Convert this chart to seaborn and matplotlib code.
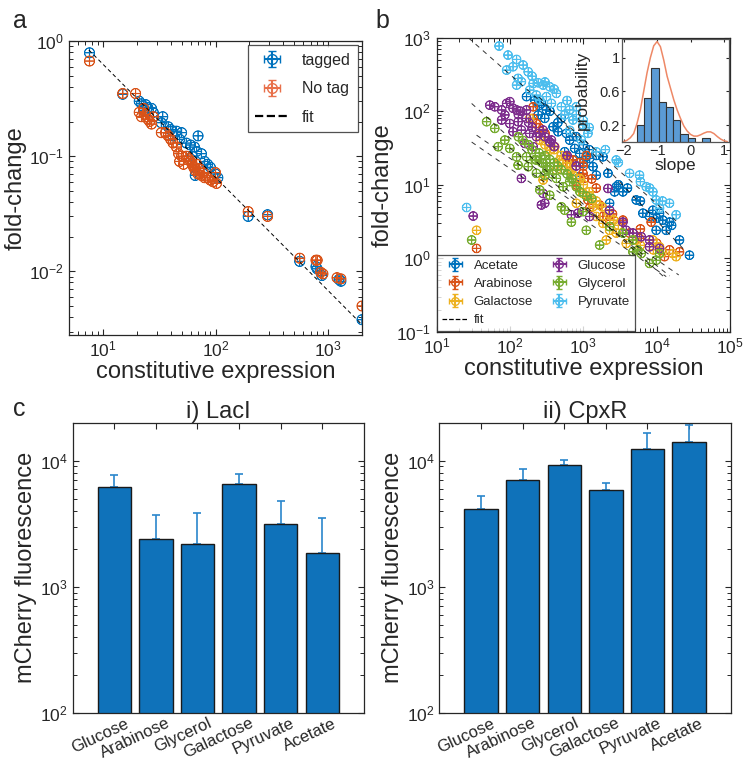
import numpy as np
import pandas as pd
import matplotlib
matplotlib.use("Agg")
import matplotlib.pyplot as plt
import matplotlib.transforms as mtrans
from matplotlib.ticker import NullLocator, LogLocator
import seaborn as sns
from matplotlib.lines import Line2D

# ---------------- data: panel a ----------------
tag_x = [7.6, 15, 21, 22, 24, 25, 27, 23, 28, 34, 33, 38, 40, 45, 50, 42, 48, 55, 60, 65, 70, 68, 75, 80,
         85, 62, 66, 90, 100, 105, 195, 290, 560, 780, 800, 880, 1250, 1300, 2000]
tag_y = [0.79, 0.345, 0.30, 0.285, 0.28, 0.265, 0.26, 0.25, 0.24, 0.22, 0.195, 0.18, 0.17, 0.165, 0.16,
         0.15, 0.14, 0.13, 0.125, 0.12, 0.15, 0.11, 0.105, 0.09, 0.085, 0.10, 0.068, 0.08, 0.07, 0.065,
         0.030, 0.031, 0.0122, 0.011, 0.0105, 0.0092, 0.0085, 0.0082, 0.0038]
notag_x = [7.6, 15, 19.5, 21, 22, 24, 23, 25, 26, 27, 28, 33, 36, 38, 40, 42, 45, 47, 50, 48, 52, 55, 58,
           60, 62, 64, 66, 68, 70, 72, 75, 78, 80, 85, 90, 95, 100, 102, 195, 290, 560, 780, 800, 860,
           900, 1200, 1300, 2000]
notag_y = [0.67, 0.35, 0.35, 0.24, 0.22, 0.23, 0.26, 0.21, 0.20, 0.19, 0.22, 0.16, 0.16, 0.15, 0.14, 0.13,
           0.12, 0.105, 0.10, 0.09, 0.085, 0.10, 0.095, 0.09, 0.085, 0.08, 0.075, 0.085, 0.07, 0.078,
           0.068, 0.072, 0.065, 0.065, 0.062, 0.060, 0.072, 0.058, 0.033, 0.030, 0.013, 0.0125, 0.0125,
           0.0098, 0.0095, 0.0088, 0.0086, 0.005]
fit_a_coef = 6.05
fit_a_slope = -0.983
fit_a_range = [7.5, 2000]

# ---------------- data: panel b ----------------
carbons = ["Acetate", "Arabinose", "Galactose", "Glucose", "Glycerol", "Pyruvate"]
acetate_x = [168, 218, 268, 314, 242, 298, 387, 452, 587, 652, 762, 891, 1098, 1219, 723, 989, 1354, 1853,
             2167, 2811, 3465, 5264, 6486, 7994, 9851, 12142, 13477, 14962, 20473, 28013, 8874, 10937,
             1503, 891, 557, 2283, 2668, 250, 350, 450, 500, 800, 1000, 1200, 1500, 3000, 4000, 6000,
             10000, 16000]
acetate_y = [158, 142, 128, 104, 89, 80, 61.5, 52.6, 49.9, 40.5, 31.2, 26.7, 24, 22.8, 21.7, 19.5, 17.6, 24,
             14.3, 9.4, 8.0, 6.2, 4.1, 3.7, 2.4, 3.3, 2.4, 3.1, 1.77, 1.10, 4.5, 4.1, 13.5, 12.9, 28.1,
             5.6, 8.0, 120, 100, 70, 80, 45, 35, 30, 25, 10, 9, 6, 3.5, 2.8]
arabinose_x = [207, 207, 229, 407, 587, 652, 723, 989, 1042, 803, 1157, 1219, 1669, 1853, 2283, 3465, 8422,
               20473, 12792, 4271, 5843, 35, 250, 300, 900, 1000, 1100, 1300, 1500, 2500, 6000, 10000,
               15000]
arabinose_y = [115, 80, 68, 32.9, 24, 19.5, 21.7, 14.3, 12.2, 9.9, 6.2, 4.8, 5.3, 3.7, 3.3, 3.3, 3.1, 1.22,
               1.05, 2.2, 1.86, 1.36, 60, 50, 20, 18, 25, 12, 9, 4, 2.5, 1.6, 1.3]
galactose_x = [186, 255, 348, 476, 587, 429, 283, 723, 803, 989, 1219, 803, 1354, 1503, 1853, 2283, 2811,
               2057, 3847, 5264, 8874, 10937, 16611, 18441, 35, 300, 400, 500, 600, 700, 900, 1000, 1200,
               1500, 1800, 2200, 2600, 3000, 6000, 9000, 12000]
galactose_y = [80, 40.5, 29.6, 21.7, 17.6, 15.8, 11.6, 13.5, 9.4, 7.6, 6.9, 5.6, 5.0, 3.7, 2.98, 2.4, 2.2,
               1.77, 1.59, 1.77, 1.77, 1.43, 1.16, 1.05, 2.4, 35, 30, 25, 20, 16, 12, 10, 8, 6, 5, 4, 3.3,
               2.8, 1.5, 1.3, 1.2]
glucose_x = [53, 62, 77, 90, 99.5, 85, 123, 77, 99.5, 129, 168, 110, 143, 186, 229, 283, 367, 159, 207, 143,
             283, 298, 268, 687, 846, 1219, 2167, 2283, 3465, 3847, 4742, 6156, 7994, 10937, 7994, 31.5,
             168, 200, 250, 300, 350, 400, 130, 110, 140, 180, 600, 800]
glucose_y = [121, 115, 104, 128, 135, 89, 104, 76, 68, 72, 80, 52.6, 55.4, 49.9, 45, 55.4, 40.5, 36.5, 32.9,
             12.2, 7.6, 5.6, 5.3, 3.9, 4.1, 3.7, 8.9, 4.5, 3.1, 2.4, 2.2, 1.96, 1.77, 1.36, 1.43, 3.75,
             104, 60, 50, 45, 38, 33, 90, 110, 100, 70, 25, 18]
glycerol_x = [48, 62, 69, 85, 99.5, 123, 168, 129, 177, 229, 283, 348, 229, 298, 429, 529, 652, 803, 255,
              348, 502, 557, 687, 989, 1098, 1669, 2283, 3465, 4742, 5546, 6156, 7994, 9851, 10937, 4742,
              30, 130, 150, 200, 250, 300, 350, 400, 450, 500, 600, 700, 180, 220, 270, 320, 380, 900,
              1100, 1300]
glycerol_y = [72, 58.4, 32.9, 40.5, 31.2, 24, 24, 18.5, 17.6, 21.7, 19.5, 17.6, 14.3, 13.5, 12.2, 9.4, 11.0,
              9.4, 8.5, 7.2, 5.0, 4.5, 3.1, 4.3, 2.4, 1.51, 2.69, 2.2, 1.77, 1.29, 1.16, 0.85, 0.94, 1.16,
              1.22, 1.77, 45, 40, 30, 27, 25, 22, 20, 18, 16, 14, 12, 35, 22, 20, 16, 14, 8, 7, 6.5]
pyruvate_x = [71, 94, 123, 110, 151, 90, 177, 129, 143, 207, 242, 283, 348, 186, 229, 314, 429, 255, 367,
              502, 652, 803, 557, 723, 989, 652, 1157, 939, 1503, 2811, 4271, 5843, 7200, 8874, 9851,
              14962, 10937, 18441, 25.6, 123, 200, 300, 400, 600, 800, 1000, 1200, 2000, 3000, 6000, 8000,
              12000]
pyruvate_y = [771, 581, 507, 403, 425, 363, 344, 280, 252, 239, 244, 227, 215, 194, 166, 158, 175, 142, 128,
              115, 104, 115, 89, 76, 65, 55, 50, 40.5, 28, 21.7, 14.3, 13.5, 9.4, 8.0, 6.2, 5.6, 4.8, 3.9,
              4.9, 227, 300, 250, 200, 140, 90, 75, 60, 30, 20, 11, 9, 6]
# fits: log10(y) = intercept + slope*log10(x)
fit_slope = [-1.05, -0.80, -0.69, -0.90, -0.69, -0.88]
fit_intercept = [4.71, 3.10, 2.74, 3.435, 2.60, 4.26]
fit_xmin = [250, 100, 35, 30, 30, 27]
fit_xmax = [23000, 15000, 20000, 13500, 13500, 20000]

# inset histogram of slopes
slope_edges = [-1.6, -1.38, -1.17, -0.95, -0.73, -0.52, -0.30, -0.08, 0.13, 0.35, 0.57]
slope_prob = [0.20, 0.52, 0.88, 0.47, 0.41, 0.255, 0.10, 0.05, 0.0, 0.05]
kde_x = [-2.0, -1.9, -1.8, -1.7, -1.6, -1.5, -1.4, -1.3, -1.2, -1.1, -1.0, -0.9, -0.8, -0.7, -0.6, -0.5,
         -0.4, -0.3, -0.2, -0.1, 0.0, 0.1, 0.2, 0.3, 0.4, 0.5, 0.6, 0.7, 0.8, 0.9, 1.0, 1.1]
kde_y = [0.005, 0.02, 0.05, 0.10, 0.22, 0.38, 0.60, 0.82, 1.00, 1.14, 1.19, 1.13, 0.97, 0.78, 0.64, 0.50,
         0.38, 0.28, 0.19, 0.13, 0.09, 0.07, 0.07, 0.085, 0.105, 0.12, 0.12, 0.10, 0.065, 0.035, 0.015,
         0.005]

# ---------------- data: panel c ----------------
bar_cats = ["Glucose", "Arabinose", "Glycerol", "Galactose", "Pyruvate", "Acetate"]
laci_vals = [6140, 2390, 2190, 6490, 3160, 1840]
laci_err = [1500, 1290, 1660, 1340, 1660, 1640]
cpxr_vals = [4140, 7030, 9240, 5850, 12390, 13970]
cpxr_err = [1070, 1560, 820, 830, 4280, 5080]

# ---------------- style ----------------
sns.set_style("ticks")
plt.rcParams["font.family"] = ["Liberation Sans", "DejaVu Sans"]
plt.rcParams["mathtext.fontset"] = "custom"
plt.rcParams["mathtext.rm"] = "Liberation Sans"
plt.rcParams["mathtext.it"] = "Liberation Sans:italic"
plt.rcParams["mathtext.bf"] = "Liberation Sans:bold"
DARK = "#262626"
plt.rcParams.update({
    "xtick.direction": "in", "ytick.direction": "in",
    "xtick.top": True, "ytick.right": True,
    "xtick.color": DARK, "ytick.color": DARK,
    "xtick.labelcolor": DARK, "ytick.labelcolor": DARK,
    "axes.edgecolor": DARK, "axes.linewidth": 0.9,
    "xtick.major.size": 4.5, "ytick.major.size": 4.5,
    "xtick.minor.size": 3, "ytick.minor.size": 3,
    "xtick.major.width": 0.8, "ytick.major.width": 0.8,
    "xtick.minor.width": 0.7, "ytick.minor.width": 0.7,
    "axes.labelcolor": DARK,
})

BLUE = "#0072BD"
ORANGE = "#D95319"
colors_b = {"Acetate": "#0072BD", "Arabinose": "#D95319", "Galactose": "#EDB120",
            "Glucose": "#7E2F8E", "Glycerol": "#77AC30", "Pyruvate": "#4DBEEE"}
MARK = r"$\oplus$"


def log_minor(ax):
    for axis in (ax.xaxis, ax.yaxis):
        axis.set_minor_locator(LogLocator(base=10, subs=np.arange(2, 10), numticks=30))


fig = plt.figure(figsize=(7.43, 7.61), dpi=100)

# ---------------- panel a ----------------
axa = fig.add_axes([0.0929, 0.5598, 0.3943, 0.3863])
dfa = pd.DataFrame({"x": tag_x + notag_x, "y": tag_y + notag_y,
                    "grp": ["tagged"] * len(tag_x) + ["No tag"] * len(notag_x)})
sns.scatterplot(data=dfa, x="x", y="y", hue="grp", palette={"tagged": BLUE, "No tag": ORANGE},
                marker=MARK, s=55, linewidth=0.5, edgecolor="face", ax=axa, legend=False)
axa.set_xscale("log"); axa.set_yscale("log")
fx = np.array(fit_a_range)
xs = np.logspace(np.log10(fx[0]), np.log10(fx[1]), 50)
axa.plot(xs, fit_a_coef * xs ** fit_a_slope, ls=(0, (4, 3)), color="k", lw=0.7)
axa.set_xlim(5, 2000)
axa.set_ylim(0.0028, 1)
log_minor(axa)
axa.set_xlabel("constitutive expression", fontsize=17, labelpad=1)
axa.set_ylabel("fold-change", fontsize=17, labelpad=2)
axa.tick_params(labelsize=12.5, which="both", top=True, right=True)
h1 = axa.errorbar([np.nan], [np.nan], xerr=[1], yerr=[1], fmt="o", mfc="none", color=BLUE, capsize=3,
                  ms=7, label="tagged")
h2 = axa.errorbar([np.nan], [np.nan], xerr=[1], yerr=[1], fmt="o", mfc="none", color="#E8704A", capsize=3,
                  ms=7, label="No tag")
h3 = Line2D([], [], color="k", ls="--", lw=1.6, label="fit")
leg = axa.legend(handles=[h1, h2, h3], loc="upper right", fontsize=11.5, frameon=True, fancybox=False,
                 edgecolor=DARK, borderpad=0.45, handlelength=2.1, labelspacing=0.85,
                 bbox_to_anchor=(0.985, 0.985), borderaxespad=0.0)
leg.get_frame().set_linewidth(0.9)
fig.text(0.018, 0.972, "a", fontsize=18, ha="left", va="center")

# ---------------- panel b ----------------
axb = fig.add_axes([0.5877, 0.5641, 0.3948, 0.3863])
series_x = [acetate_x, arabinose_x, galactose_x, glucose_x, glycerol_x, pyruvate_x]
series_y = [acetate_y, arabinose_y, galactose_y, glucose_y, glycerol_y, pyruvate_y]
rows = []
for name, sx, sy in zip(carbons, series_x, series_y):
    for a, b in zip(sx, sy):
        rows.append((name, a, b))
dfb = pd.DataFrame(rows, columns=["carbon", "x", "y"])
sns.scatterplot(data=dfb, x="x", y="y", hue="carbon", palette=colors_b, marker=MARK, s=40,
                linewidth=0.6, edgecolor="face", ax=axb, legend=False)
axb.set_xscale("log"); axb.set_yscale("log")
for i, name in enumerate(carbons):
    xs = np.logspace(np.log10(fit_xmin[i]), np.log10(fit_xmax[i]), 50)
    axb.plot(xs, 10 ** (fit_intercept[i] + fit_slope[i] * np.log10(xs)), ls=(0, (5, 5)), color="k",
             lw=0.7, alpha=0.8)
axb.set_xlim(10, 1e5)
axb.set_ylim(0.1, 1000)
log_minor(axb)
axb.set_xlabel("constitutive expression", fontsize=17, labelpad=1)
axb.set_ylabel("fold-change", fontsize=17, labelpad=2)
axb.tick_params(labelsize=12.5, which="both", top=True, right=True)
axb.tick_params(axis="y", pad=4)
handles = []
for name in carbons[:3]:
    handles.append(axb.errorbar([np.nan], [np.nan], xerr=[1], yerr=[1], fmt="o", mfc="none",
                                color=colors_b[name], capsize=2.2, ms=5.5, label=name))
handles.append(Line2D([], [], color="k", ls="--", lw=0.9, label="fit"))
for name in carbons[3:]:
    handles.append(axb.errorbar([np.nan], [np.nan], xerr=[1], yerr=[1], fmt="o", mfc="none",
                                color=colors_b[name], capsize=2.2, ms=5.5, label=name))
legb = axb.legend(handles=handles, loc="lower left", ncol=2, fontsize=9.5, frameon=True, fancybox=False,
                  edgecolor=DARK, borderpad=0.35, handlelength=2.0, labelspacing=0.45, columnspacing=1.0,
                  handletextpad=0.4, borderaxespad=0.05)
legb.get_frame().set_linewidth(0.9)
fig.text(0.505, 0.972, "b", fontsize=18, ha="left", va="center")

# inset
axi = fig.add_axes([0.8371, 0.8134, 0.144, 0.1353])
centers = [(slope_edges[i] + slope_edges[i + 1]) / 2 for i in range(len(slope_prob))]
sns.histplot(x=centers, weights=slope_prob, bins=slope_edges, ax=axi, color="#5B9BD5",
             edgecolor="#333333", alpha=1, linewidth=0.8)
sns.lineplot(x=kde_x, y=kde_y, ax=axi, color="#EE8866", lw=1.1)
axi.set_xlim(-2.05, 1.15)
axi.set_ylim(0, 1.22)
axi.set_xticks([-2, -1, 0, 1])
axi.set_yticks([0.2, 0.6, 1])
axi.set_yticklabels(["0.2", "0.6", "1"])
axi.set_xlabel("slope", fontsize=12.5, labelpad=0)
axi.set_ylabel("probability", fontsize=12.5, labelpad=0)
axi.tick_params(labelsize=10.5, pad=1.5, length=2.5)
axi.yaxis.set_label_coords(-0.30, 0.5)
axi.xaxis.set_minor_locator(NullLocator())
axi.yaxis.set_minor_locator(NullLocator())
for s in axi.spines.values():
    s.set_color("#555555")

# ---------------- panel c ----------------
def barpanel(rect, vals, errs, title):
    ax = fig.add_axes(rect)
    dfc = pd.DataFrame({"cat": bar_cats, "val": vals})
    ax.set_yscale("log")
    ax.errorbar(range(len(vals)), vals, yerr=[[0] * len(vals), errs], fmt="none", ecolor="#2a86cc",
                elinewidth=1.2, capsize=3, capthick=1.2, zorder=1)
    sns.barplot(data=dfc, x="cat", y="val", color="#0F72BA", saturation=1, width=0.8,
                edgecolor="#1a1a1a", linewidth=1.0, ax=ax, zorder=2, errorbar=None)
    ax.set_ylim(100, 2e4)
    ax.set_xlim(-1, 6)
    ax.yaxis.set_minor_locator(LogLocator(base=10, subs=np.arange(2, 10), numticks=30))
    ax.xaxis.set_minor_locator(NullLocator())
    ax.set_xlabel("")
    ax.set_ylabel("mCherry fluorescence", fontsize=17, labelpad=2)
    ax.tick_params(axis="y", labelsize=12.5, which="both", right=True)
    ax.tick_params(axis="x", labelsize=12, top=True, length=4, pad=2)
    offset = mtrans.ScaledTranslation(0.1, 0, fig.dpi_scale_trans)
    for lab in ax.get_xticklabels():
        lab.set_rotation(25)
        lab.set_ha("right")
        lab.set_rotation_mode("anchor")
        lab.set_transform(lab.get_transform() + offset)
    ax.set_title(title, fontsize=17, pad=3, color=DARK)
    return ax

axc1 = barpanel([0.0978, 0.0631, 0.392, 0.3815], laci_vals, laci_err, "i) LacI")
axc2 = barpanel([0.5913, 0.0631, 0.3922, 0.3815], cpxr_vals, cpxr_err, "ii) CpxR")
fig.text(0.018, 0.462, "c", fontsize=18, ha="left", va="center")

fig.savefig("out.png", dpi=100)
